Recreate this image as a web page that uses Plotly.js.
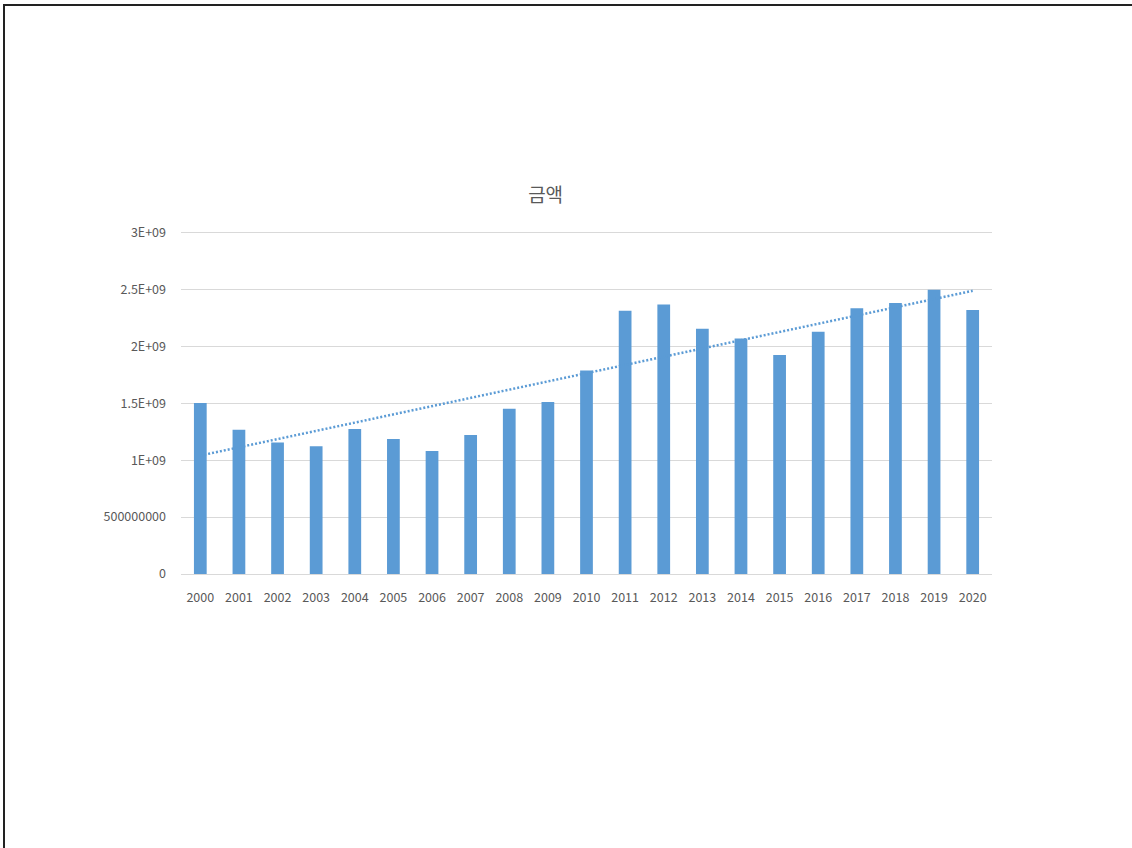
<!DOCTYPE html>
<html>
<head>
<meta charset="utf-8">
<script src="https://cdn.plot.ly/plotly-3.0.1.min.js"></script>
<style>
  html, body { margin: 0; padding: 0; background: #ffffff; }
  #chart { position: absolute; left: 0; top: 0; width: 1132px; height: 848px; }
  #frame { position: absolute; left: 3px; top: 4px; width: 1129px; height: 844px;
           border-top: 2px solid #222; border-left: 2px solid #222; box-sizing: border-box;
           pointer-events: none; }
</style>
</head>
<body>
<div id="chart"></div>
<div id="frame"></div>
<script>
const years = ['2000','2001','2002','2003','2004','2005','2006','2007','2008','2009','2010',
               '2011','2012','2013','2014','2015','2016','2017','2018','2019','2020'];
const amounts = [1.501e9, 1.267e9, 1.156e9, 1.121e9, 1.273e9, 1.186e9, 1.080e9, 1.221e9, 1.452e9, 1.511e9, 1.788e9,
                 2.312e9, 2.368e9, 2.154e9, 2.069e9, 1.923e9, 2.128e9, 2.333e9, 2.380e9, 2.497e9, 2.318e9];
const yTickVals = [0, 5e8, 1e9, 1.5e9, 2e9, 2.5e9, 3e9];
const yTickText = ['0', '500000000', '1E+09', '1.5E+09', '2E+09', '2.5E+09', '3E+09'];
const chartTitle = '금액';

// linear trendline (least squares over category index)
const n = amounts.length;
const xs = amounts.map((_, i) => i);
const mx = xs.reduce((a, b) => a + b, 0) / n;
const my = amounts.reduce((a, b) => a + b, 0) / n;
let sxy = 0, sxx = 0;
for (let i = 0; i < n; i++) { sxy += (xs[i] - mx) * (amounts[i] - my); sxx += (xs[i] - mx) ** 2; }
const slope = sxy / sxx, icpt = my - slope * mx;
const trend = xs.map(x => icpt + slope * x);

const font = 'Noto Sans CJK KR, Noto Sans, sans-serif';
const data = [
  { type: 'bar', x: years, y: amounts, marker: { color: '#5B9BD5' }, hoverinfo: 'x+y' },
  { type: 'scatter', mode: 'lines', x: years, y: trend,
    line: { color: '#5B9BD5', width: 2.5, dash: '2px,2px' }, hoverinfo: 'skip' }
];
const layout = {
  width: 1132, height: 848,
  paper_bgcolor: '#ffffff', plot_bgcolor: '#ffffff',
  showlegend: false,
  bargap: 0.67,
  margin: { l: 181, r: 140, t: 229, b: 274 },
  font: { family: font, color: '#595959', size: 12 },
  title: { text: chartTitle, font: { family: font, size: 19, color: '#595959' },
           xref: 'container', yref: 'container', x: 0.482, y: 1 - 195 / 848,
           xanchor: 'center', yanchor: 'middle' },
  xaxis: { type: 'category', showgrid: false, zeroline: false,
           showline: true, linecolor: '#d9d9d9', linewidth: 1,
           ticks: '', ticklabelstandoff: 12,
           tickfont: { family: font, size: 12.5, color: '#595959' } },
  yaxis: { range: [0, 3.03e9], tickmode: 'array', tickvals: yTickVals, ticktext: yTickText,
           showgrid: true, gridcolor: '#d9d9d9', gridwidth: 1, zeroline: false,
           showline: false, ticks: '', ticklabelstandoff: 14,
           tickfont: { family: font, size: 12.5, color: '#595959' } }
};
Plotly.newPlot('chart', data, layout, { displayModeBar: false, staticPlot: true });
</script>
</body>
</html>
